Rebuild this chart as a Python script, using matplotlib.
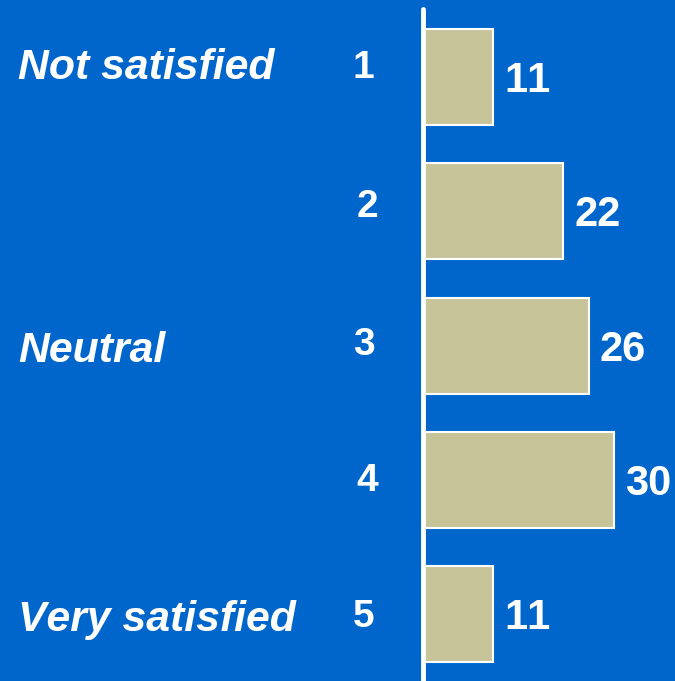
import matplotlib.pyplot as plt
import matplotlib.transforms as mtransforms

# data
ranks = [1, 2, 3, 4, 5]
counts = [11, 22, 26, 30, 11]
rank_labels = ['1', '2', '3', '4', '5']
scale_labels = {1: 'Not satisfied', 3: 'Neutral', 5: 'Very satisfied'}

bg = '#0066CC'
bar_color = '#C8C49A'
plt.rcParams['font.family'] = ['Liberation Sans', 'DejaVu Sans']
plt.rcParams['text.kerning_factor'] = 6  # no "11" pair kerning, like the original

fig = plt.figure(figsize=(6.75, 6.81), dpi=100, facecolor=bg)
ax = fig.add_axes([423 / 675, 0, 1 - 423 / 675, 1])
ax.set_facecolor(bg)

ax.barh(ranks, counts, height=0.715, color=bar_color, edgecolor='white', linewidth=1.5)
ax.set_xlim(0, 39.5)
ax.set_ylim(5.499, 0.426)
ax.axis('off')

# axis line on the left of the bars
ax.plot([0, 0], [0.4935, 5.6], color='white', lw=3.5, solid_capstyle='round', clip_on=False)

# value labels
for r, c in zip(ranks, counts):
    ax.text(c + 1.7, r + 4 / 134.25, str(c), color='white', fontsize=30, fontweight='bold',
            va='center', ha='left')

# rank numbers and scale labels (x in figure coords, y in data)
trans = mtransforms.blended_transform_factory(fig.transFigure, ax.transData)
rank_dy = [-9, -4, -1, 1, 3]  # pixel nudges
rank_x = [363, 367, 364, 367, 364]
for r, lab, dy, px in zip(ranks, rank_labels, rank_dy, rank_x):
    ax.text(px / 675, r + dy / 134.25, lab, transform=trans, color='white',
            fontsize=28, fontweight='bold', ha='center', va='center')

for r, lab in scale_labels.items():
    dy = {1: -9, 3: 5, 5: 6}[r]
    ax.text(18 / 675, r + dy / 134.25, lab, transform=trans, color='white',
            fontsize=30.8, fontweight='bold', style='italic', ha='left', va='center')

fig.savefig('out.png', dpi=100, facecolor=bg)
